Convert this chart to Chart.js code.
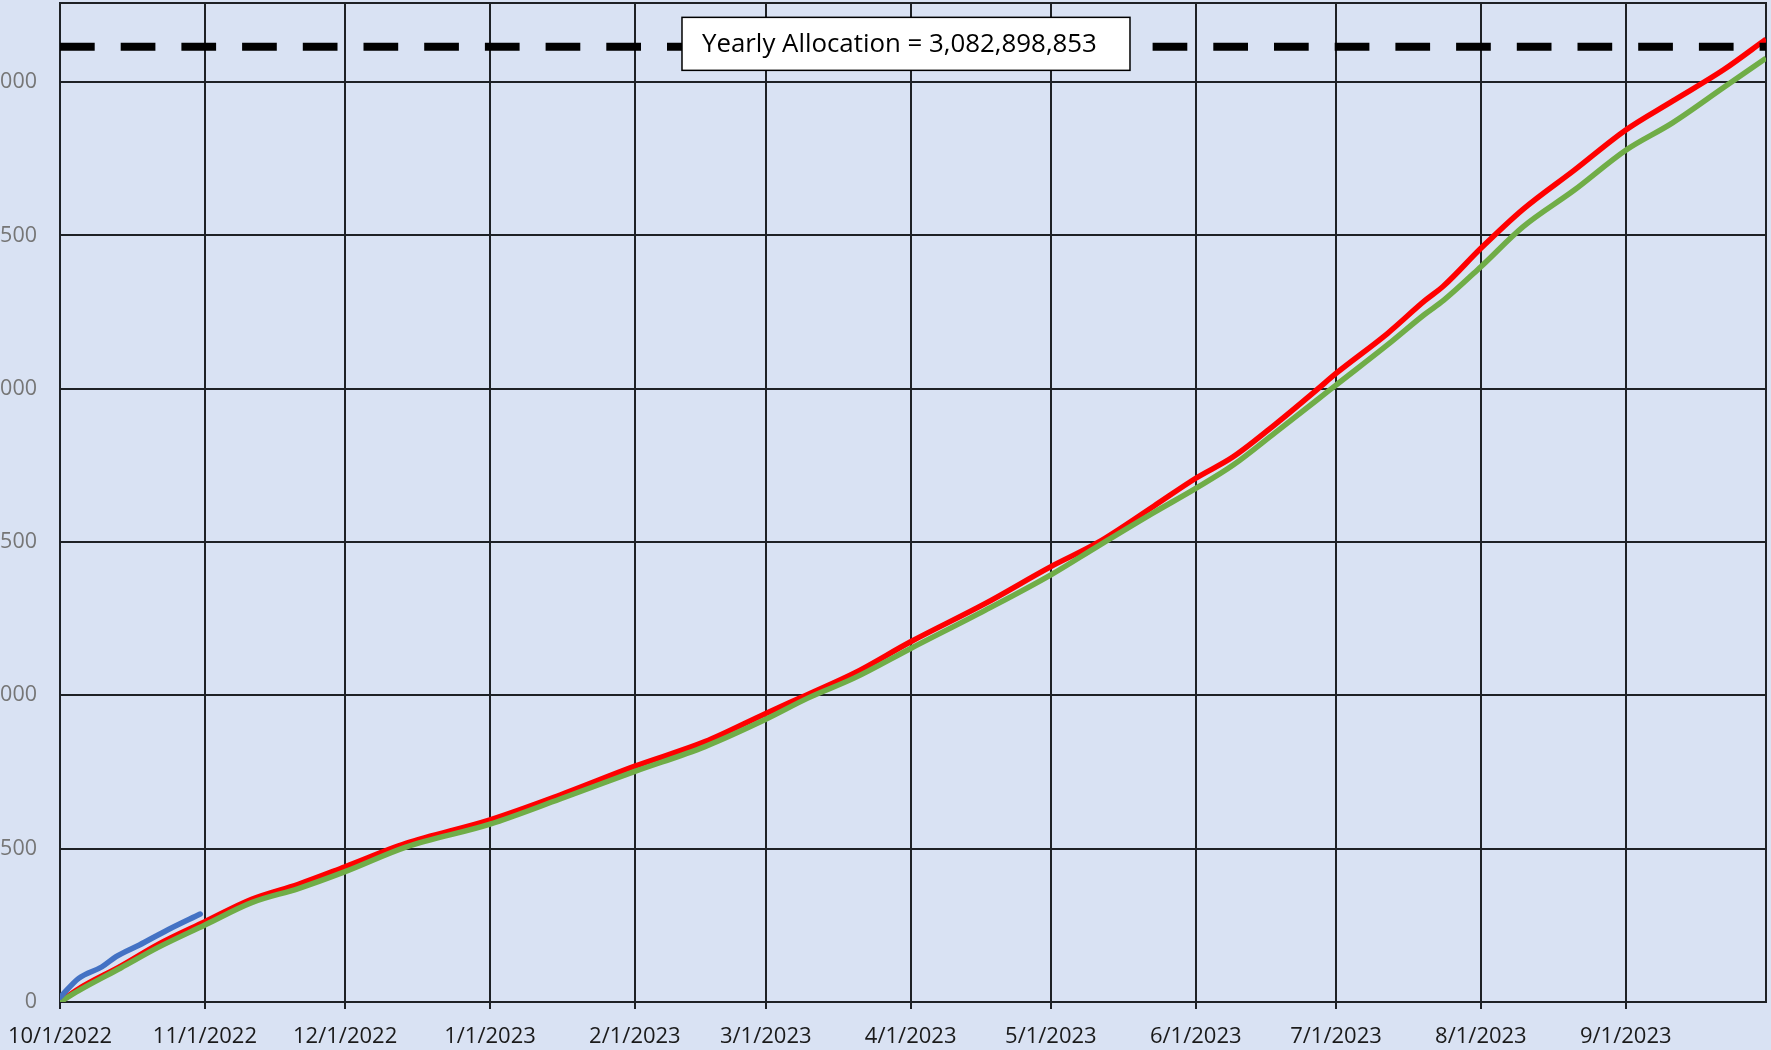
<!DOCTYPE html>
<html><head><meta charset="utf-8">
<script src="https://cdn.jsdelivr.net/npm/chart.js@4/dist/chart.umd.min.js"></script>
<style>html,body{margin:0;padding:0;background:#d9e2f3;overflow:hidden}canvas{display:block}</style>
</head><body><canvas id="c" width="1771" height="1050"></canvas>
<script>
// ---- data ----
const monthLabels = ['10/1/2022','11/1/2022','12/1/2022','1/1/2023','2/1/2023','3/1/2023','4/1/2023','5/1/2023','6/1/2023','7/1/2023','8/1/2023','9/1/2023'];
const monthDays = [0,31,61,92,123,151,182,212,243,273,304,335];
const yTickValues = [0,500,1000,1500,2000,2500,3000];
const yTickLabels = ['0','500','000','500','000','500','000'];

const lineDays = [0,4,13,21,31,41,51,61,74,92,107,123,138,151,160,170,182,198,212,222,234,243,251,260,269,273,284,292,296,304,313,324,335,345,356,365];
const redValues = [0,43,117,188,262,335,384,441,517,594,675,769,849,941,1003,1073,1175,1300,1420,1498,1617,1708,1778,1884,1998,2050,2180,2287,2335,2458,2585,2713,2844,2938,3041,3140];
const greenValues = [0,37,111,178,251,324,370,425,505,580,662,752,833,922,991,1057,1153,1278,1393,1486,1596,1675,1751,1857,1964,2012,2143,2243,2288,2398,2528,2648,2778,2867,2983,3078];

const blueDays = [0,4,9,12,17,23,30];
const blueValues = [15,77,115,148,186,235,287];

const allocationLevel = 3115;
const allocationText = 'Yearly Allocation = 3,082,898,853';
const allocationBoxDay = 181;

// ---- build ----
const pts = (xs, ys) => xs.map((x, i) => ({x, y: ys[i]}));
const GRID = '#1e2125';

const bgPlugin = {
  id: 'bg',
  beforeDraw(chart) {
    const c = chart.ctx;
    c.save(); c.fillStyle = '#d9e2f3'; c.fillRect(0, 0, chart.width, chart.height); c.restore();
  }
};
const framePlugin = {
  id: 'frame',
  beforeDatasetsDraw(chart) {
    const a = chart.chartArea, c = chart.ctx;
    c.save(); c.strokeStyle = GRID; c.lineWidth = 2;
    c.strokeRect(a.left, a.top, a.right - a.left, a.bottom - a.top);
    c.restore();
  }
};
const boxPlugin = {
  id: 'allocBox',
  afterDatasetsDraw(chart) {
    const c = chart.ctx, xs = chart.scales.x, ys = chart.scales.y;
    const cx = xs.getPixelForValue(allocationBoxDay);
    const cy = ys.getPixelForValue(allocationLevel) - 3;
    const w = 448, h = 53;
    c.save();
    c.fillStyle = '#ffffff'; c.fillRect(cx - w/2, cy - h/2, w, h);
    c.strokeStyle = '#000'; c.lineWidth = 1.5; c.strokeRect(cx - w/2, cy - h/2, w, h);
    c.font = '24px "Open Sans"';
    const m = c.measureText(allocationText).width;
    const fs = 24 * 395 / m;
    c.font = fs.toFixed(2) + 'px "Open Sans"';
    c.fillStyle = '#000'; c.textAlign = 'left'; c.textBaseline = 'middle';
    c.fillText(allocationText, cx - w/2 + 20, cy + 1);
    c.restore();
  }
};

new Chart(document.getElementById('c'), {
  type: 'line',
  data: {
    datasets: [
      { label: 'Yearly Allocation', data: pts([0, 365], [allocationLevel, allocationLevel]),
        borderColor: '#000', borderWidth: 8, borderDash: [34.7, 26], borderDashOffset: 0,
        borderCapStyle: 'butt', pointRadius: 0, tension: 0 },
      { label: 'Blue', data: pts(blueDays, blueValues), borderColor: '#4472c4', borderWidth: 5.5,
        pointRadius: 0, cubicInterpolationMode: 'monotone', borderCapStyle: 'round' },
      { label: 'Green', data: pts(lineDays, greenValues), borderColor: '#70ad47', borderWidth: 5.5,
        pointRadius: 0, cubicInterpolationMode: 'monotone' },
      { label: 'Red', data: pts(lineDays, redValues), borderColor: '#ff0000', borderWidth: 5.5,
        pointRadius: 0, cubicInterpolationMode: 'monotone' }
    ]
  },
  options: {
    responsive: false, animation: false,
    layout: { padding: { top: 3, right: 5, bottom: 0, left: 0 } },
    plugins: { legend: { display: false }, tooltip: { enabled: false } },
    scales: {
      x: {
        type: 'linear', min: 0, max: 365,
        afterBuildTicks(s) { s.ticks = monthDays.map(v => ({ value: v })); },
        afterFit(s) { s.height = 48; s.paddingLeft = 0; s.paddingRight = 0; },
        ticks: { autoSkip: false, maxRotation: 0, padding: 15, color: '#1a1a1a',
          font: { family: 'Open Sans', size: 22 },
          callback: (v, i) => monthLabels[i] },
        grid: { color: GRID, lineWidth: 2, tickLength: 7, drawTicks: true },
        border: { color: GRID, width: 2 }
      },
      y: {
        min: 0, max: 3258,
        afterBuildTicks(s) { s.ticks = yTickValues.map(v => ({ value: v })); },
        afterFit(s) { s.width = 60; s.paddingTop = 0; s.paddingBottom = 0; },
        ticks: { padding: 23, color: '#767676', font: { family: 'Open Sans', size: 21.5 },
          callback: (v, i) => yTickLabels[i] },
        grid: { color: GRID, lineWidth: 2, drawTicks: false },
        border: { color: GRID, width: 2 }
      }
    }
  },
  plugins: [bgPlugin, framePlugin, boxPlugin]
});
</script>
</body></html>
